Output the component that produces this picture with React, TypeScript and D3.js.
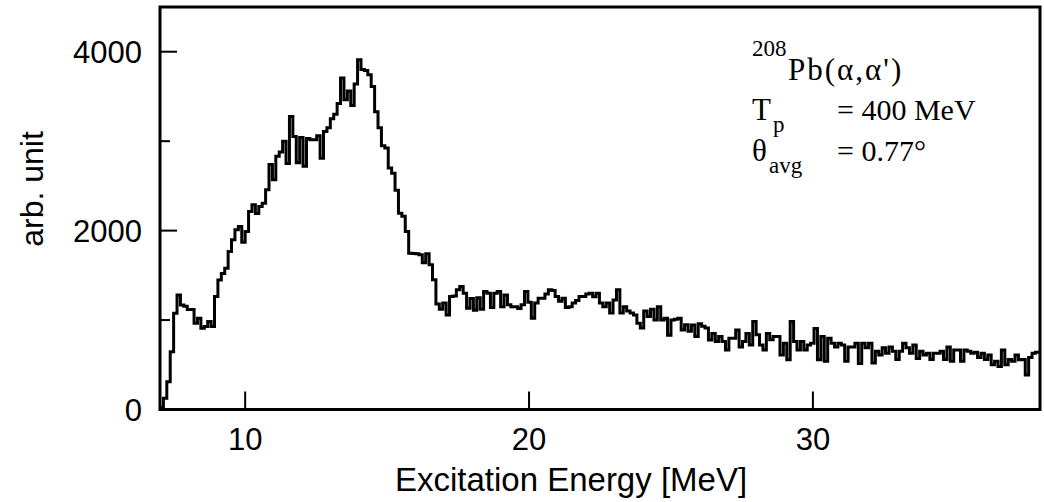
import React from "react";
import * as d3 from "d3";

// Spectrum: counts per energy bin, bins start at BIN_START and are BIN_WIDTH wide (MeV)
const BIN_START = 7.0;
const BIN_WIDTH = 0.12;
const counts: number[] = [
  20, 125, 311, 647, 1076, 1281, 1169, 1155, 1117, 1117,
  965, 1020, 908, 928, 985, 928, 1262, 1449, 1520, 1580,
  1766, 1897, 2009, 2046, 1870, 1990, 2213, 2288, 2190, 2270,
  2307, 2456, 2740, 2570, 2830, 2880, 3000, 2750, 3276, 3052,
  2760, 3040, 2720, 3030, 3015, 3015, 3060, 2810, 3108, 3150,
  3250, 3300, 3420, 3706, 3463, 3560, 3400, 3640, 3911, 3800,
  3790, 3743, 3612, 3330, 3150, 2950, 2925, 2700, 2640, 2450,
  2195, 2160, 1990, 1748, 1745, 1740, 1730, 1640, 1740, 1617,
  1450, 1180, 1120, 1192, 1057, 1262, 1270, 1338, 1375, 1300,
  1132, 1240, 1110, 1250, 1120, 1318, 1300, 1140, 1300, 1320,
  1150, 1280, 1170, 1150, 1150, 1130, 1170, 1320, 1200, 1020,
  1190, 1245, 1245, 1290, 1338, 1330, 1262, 1210, 1245, 1140,
  1150, 1190, 1220, 1263, 1263, 1290, 1300, 1260, 1300, 1190,
  1150, 1190, 1080, 1225, 1340, 1080, 1150, 1100, 1080, 1057,
  964, 910, 1100, 1040, 1120, 1000, 1150, 1000, 1020, 830,
  1000, 1010, 1020, 890, 947, 874, 945, 815, 960, 930,
  910, 778, 850, 760, 815, 759, 666, 797, 797, 890,
  700, 759, 850, 720, 983, 836, 720, 666, 850, 780,
  815, 815, 610, 740, 555, 983, 760, 666, 760, 666,
  720, 740, 905, 555, 815, 540, 797, 740, 700, 740,
  720, 540, 700, 700, 740, 515, 740, 690, 740, 520,
  650, 610, 690, 630, 700, 650, 560, 650, 740, 690,
  630, 720, 570, 650, 610, 630, 560, 630, 630, 650,
  560, 700, 540, 666, 666, 540, 666, 650, 630, 640,
  580, 630, 560, 610, 500, 540, 480, 666, 500, 560,
  540, 610, 555, 560, 385, 580, 630, 640, 640,
];

const xDomain: [number, number] = [7, 38];
const yDomain: [number, number] = [0, 4500];
const xTicks = [10, 20, 30];
const yMajorTicks = [0, 2000, 4000];
const yMinorTicks = [1000, 3000];

const W = 1044;
const H = 502;
const left = 160;
const right = 1040;
const top = 7;
const bottom = 409.5;

export default function App() {
  const x = d3.scaleLinear().domain(xDomain).range([left, right]);
  const y = d3.scaleLinear().domain(yDomain).range([bottom, top]);

  const pts: [number, number][] = [[BIN_START, 0]];
  counts.forEach((c, i) => pts.push([BIN_START + i * BIN_WIDTH, c]));
  pts.push([BIN_START + counts.length * BIN_WIDTH, counts[counts.length - 1]]);

  const line = d3
    .line<[number, number]>()
    .x((d) => x(d[0]))
    .y((d) => y(d[1]))
    .curve(d3.curveStepAfter);

  const sans = "'Liberation Sans', Arial, sans-serif";
  const serif = "'Liberation Serif', 'Times New Roman', serif";

  return (
    <svg
      width={W}
      height={H}
      style={{ position: "absolute", left: 0, top: 0, background: "#fff" }}
    >
      <defs>
        <clipPath id="plotArea">
          <rect x={left} y={top} width={right - left} height={bottom - top} />
        </clipPath>
      </defs>

      <path
        d={line(pts) || ""}
        fill="none"
        stroke="#000"
        strokeWidth={3}
        strokeLinejoin="miter"
        clipPath="url(#plotArea)"
      />

      {/* ticks */}
      {yMajorTicks.map((t) => (
        <line key={"ym" + t} x1={left} x2={left + 17} y1={y(t)} y2={y(t)} stroke="#000" strokeWidth={2} />
      ))}
      {yMinorTicks.map((t) => (
        <line key={"yn" + t} x1={left} x2={left + 10} y1={y(t)} y2={y(t)} stroke="#000" strokeWidth={2} />
      ))}
      {xTicks.map((t) => (
        <line key={"xt" + t} x1={x(t)} x2={x(t)} y1={bottom} y2={bottom - 18} stroke="#000" strokeWidth={2} />
      ))}

      {/* frame */}
      <rect
        x={left}
        y={top}
        width={right - left}
        height={bottom - top}
        fill="none"
        stroke="#000"
        strokeWidth={3}
      />

      {/* tick labels */}
      {yMajorTicks.map((t) => (
        <text
          key={"yl" + t}
          x={left - 18}
          y={y(t)}
          dy="0.36em"
          textAnchor="end"
          fontFamily={sans}
          fontSize={31}
        >
          {t}
        </text>
      ))}
      {xTicks.map((t) => (
        <text
          key={"xl" + t}
          x={x(t)}
          y={450}
          textAnchor="middle"
          fontFamily={sans}
          fontSize={31}
        >
          {t}
        </text>
      ))}

      {/* axis titles */}
      <text x={571} y={491} textAnchor="middle" fontFamily={sans} fontSize={33}>
        Excitation Energy [MeV]
      </text>
      <text
        transform="translate(43,189) rotate(-90)"
        textAnchor="middle"
        fontFamily={sans}
        fontSize={32}
      >
        arb. unit
      </text>

      {/* reaction annotation */}
      <g fontFamily={serif} fill="#000">
        <text x={752} y={56} fontSize={23}>208</text>
        <text x={788} y={80} fontSize={31} letterSpacing={2}>Pb(α,α')</text>

        <text x={752} y={120} fontSize={31}>T</text>
        <text x={773} y={132} fontSize={23}>p</text>
        <text x={837} y={120} fontSize={30}>= 400 MeV</text>

        <text x={752} y={161} fontSize={31}>θ</text>
        <text x={769} y={173} fontSize={23}>avg</text>
        <text x={837} y={161} fontSize={30}>= 0.77°</text>
      </g>
    </svg>
  );
}
